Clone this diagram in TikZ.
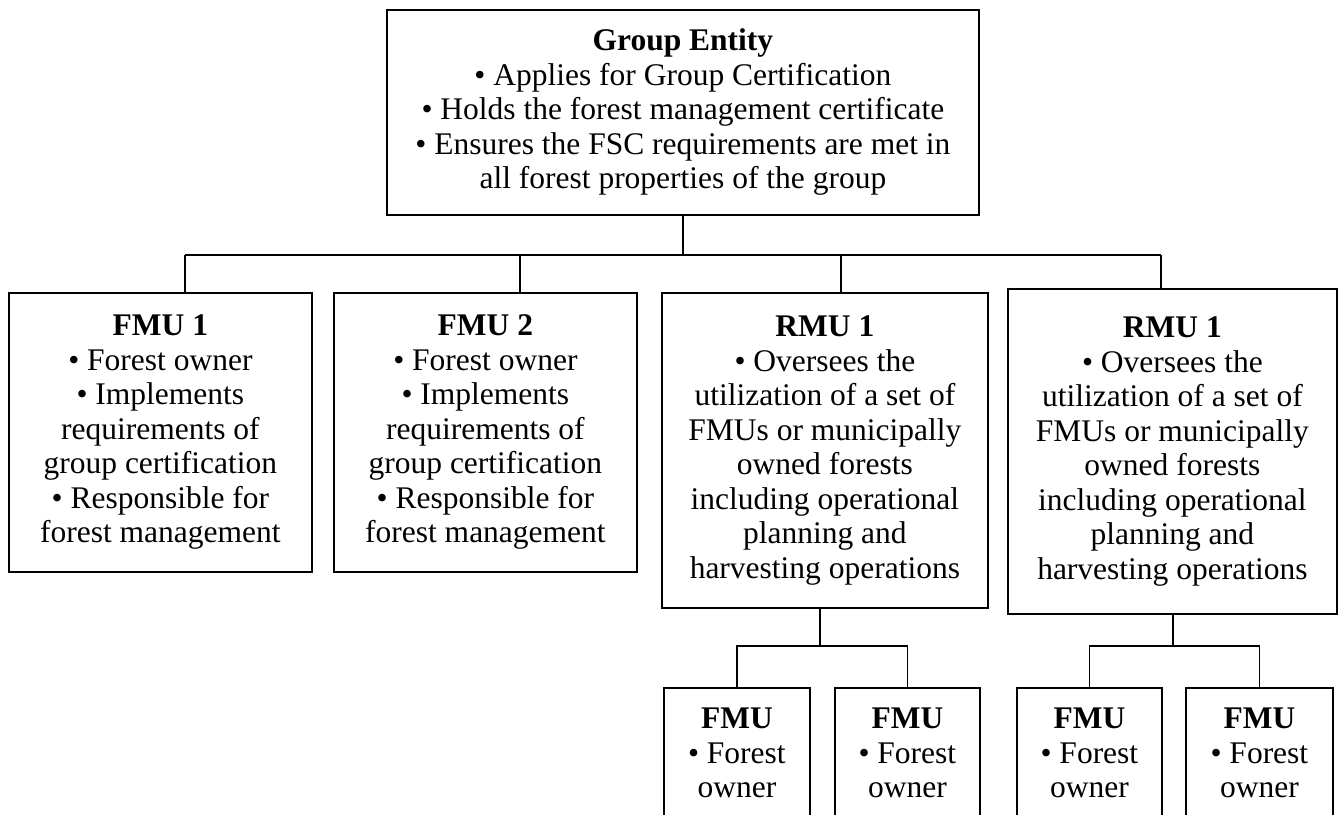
\documentclass[tikz,border=0pt]{standalone}
\usepackage{fontspec}
\setmainfont{Liberation Serif}
\begin{document}
\begin{tikzpicture}[x=1pt,y=-1pt,
  box/.style={draw, line width=1.8pt, align=center, inner sep=0pt, anchor=north west,
    font=\fontsize{31.5}{34.5}\selectfont},
  conn/.style={line width=1.8pt}]
\useasboundingbox (0,0) rectangle (1338,814);
\clip (0,0) rectangle (1338,814);
\node[box, minimum width=592, minimum height=205] (ge) at (386,9)
  {\textbf{Group Entity}\\• Applies for Group Certification\\• Holds the forest management certificate\\• Ensures the FSC requirements are met in\\all forest properties of the group};
\node[box, minimum width=303, minimum height=279] (fmu1) at (8,292)
  {\textbf{FMU 1}\\• Forest owner\\• Implements\\requirements of\\group certification\\• Responsible for\\forest management};
\node[box, minimum width=303, minimum height=279] (fmu2) at (333,292)
  {\textbf{FMU 2}\\• Forest owner\\• Implements\\requirements of\\group certification\\• Responsible for\\forest management};
\node[box, minimum width=326, minimum height=315] (rmu1) at (661,292)
  {\textbf{RMU 1}\\• Oversees the\\utilization of a set of\\FMUs or municipally\\owned forests\\including operational\\planning and\\harvesting operations};
\node[box, minimum width=329, minimum height=325] (rmu2) at (1007,288)
  {\textbf{RMU 1}\\• Oversees the\\utilization of a set of\\FMUs or municipally\\owned forests\\including operational\\planning and\\harvesting operations};
\node[box, minimum width=146, minimum height=130] (b1) at (663,687) {\textbf{FMU}\\• Forest\\owner};
\node[box, minimum width=145, minimum height=130] (b2) at (834,687) {\textbf{FMU}\\• Forest\\owner};
\node[box, minimum width=145, minimum height=130] (b3) at (1016,687) {\textbf{FMU}\\• Forest\\owner};
\node[box, minimum width=147, minimum height=130] (b4) at (1185,687) {\textbf{FMU}\\• Forest\\owner};
\coordinate (hl) at (185,255);
\coordinate (hr) at (1161,255);
\coordinate (d2) at (520,255);
\coordinate (d3) at (841,255);
\coordinate (c1) at (820,646);
\coordinate (c2) at (1173,646);
\draw[conn] (hl) -- (hr);
\draw[conn] (ge.south) -- (ge.south |- hl);
\draw[conn] (hl) -- (hl |- fmu1.north);
\draw[conn] (d2) -- (d2 |- fmu2.north);
\draw[conn] (d3) -- (d3 |- rmu1.north);
\draw[conn] (hr) -- (hr |- rmu2.north);
\draw[conn] (c1 |- rmu1.south) -- (c1);
\draw[conn] (b1.north) |- (c1) -| (b2.north);
\draw[conn] (c2 |- rmu2.south) -- (c2);
\draw[conn] (b3.north) |- (c2) -| (b4.north);
\end{tikzpicture}
\end{document}
